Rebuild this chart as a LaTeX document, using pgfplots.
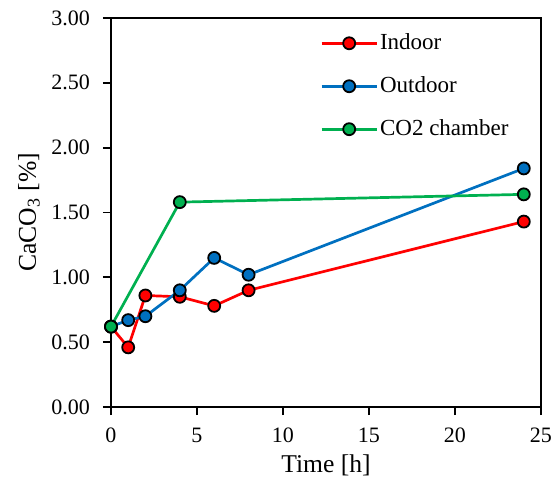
\documentclass[border=0pt]{standalone}
\usepackage{pgfplots}
\pgfplotsset{compat=1.18}
\usepackage{fontspec}
\setmainfont{Liberation Serif}
\definecolor{cred}{HTML}{FF0000}
\definecolor{cblue}{HTML}{0070C0}
\definecolor{cgreen}{HTML}{00B050}
\begin{document}
\begin{tikzpicture}
\path[use as bounding box] (-55.5pt,-38.5pt) rectangle (221pt,203.5pt);
\begin{axis}[
  scale only axis,
  width=215pt, height=194.5pt,
  at={(0,0)}, anchor=south west,
  xmin=0, xmax=25, ymin=0, ymax=3,
  xtick={0,5,...,25},
  ytick={0,0.5,...,3},
  /pgf/number format/assume math mode=true,
  tick align=outside,
  tick pos=left,
  major tick length=4pt,
  axis line style={line width=0.9pt},
  every tick/.style={line width=0.9pt, black},
  tick label style={font=\fontsize{11}{13}\selectfont},
  xticklabel style={yshift=-3pt},
  yticklabel style={xshift=-3pt, /pgf/number format/.cd, fixed, fixed zerofill, precision=2},
  label style={font=\fontsize{12.8}{15}\selectfont},
  xlabel={Time [h]},
  ylabel={CaCO\textsubscript{3} [\%]},
  xlabel style={yshift=1pt},
  ylabel style={yshift=-1pt},
  legend style={draw=none, fill=none, at={(0.472,0.981)}, anchor=north west,
    font=\fontsize{11.5}{13}\selectfont, row sep=8pt,
    nodes={inner xsep=1pt}},
  legend cell align=left,
  legend image code/.code={\draw[mark repeat=2,mark phase=2,#1] plot coordinates {(0pt,0pt)(13.75pt,0pt)(27.5pt,0pt)};},
  every axis plot/.append style={line width=1.35pt, mark=*, mark size=3pt},
]
\addplot[cred, mark options={fill=cred, draw=black, line width=0.9pt}] coordinates {(0,0.62)(1,0.46)(2,0.86)(4,0.85)(6,0.78)(8,0.90)(24,1.43)};
\addlegendentry{Indoor}
\addplot[cblue, mark options={fill=cblue, draw=black, line width=0.9pt}] coordinates {(0,0.62)(1,0.67)(2,0.70)(4,0.90)(6,1.15)(8,1.02)(24,1.84)};
\addlegendentry{Outdoor}
\addplot[cgreen, mark options={fill=cgreen, draw=black, line width=0.9pt}] coordinates {(0,0.62)(4,1.58)(24,1.64)};
\addlegendentry{CO2 chamber}
\end{axis}
\end{tikzpicture}
\end{document}
